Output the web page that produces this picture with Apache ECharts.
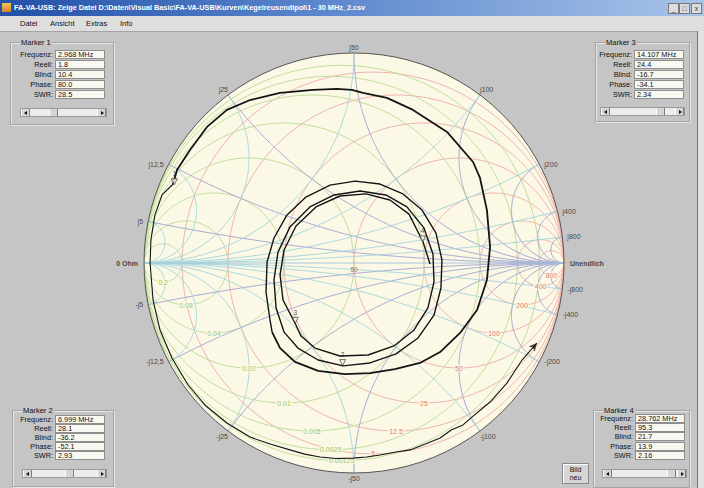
<!DOCTYPE html>
<html><head><meta charset="utf-8">
<script src="https://cdn.jsdelivr.net/npm/echarts@6.0.0/dist/echarts.min.js"></script>
<style>
html,body{margin:0;padding:0}
body{width:704px;height:488px;overflow:hidden;background:#c5c5c5;position:relative;font-family:"Liberation Sans",Arial,sans-serif;color:#111}
#chart{position:absolute;left:0;top:0;width:704px;height:488px;z-index:1}
.ui{position:absolute;z-index:2}
#title{left:0;top:0;width:704px;height:16px;background:linear-gradient(90deg,#2350a8 0%,#5a86cc 45%,#a9c4ea 100%)}
#title .t{position:absolute;left:14px;top:3px;font-size:7.3px;font-weight:bold;color:#fff;white-space:nowrap;line-height:10px}
#title .ic{position:absolute;left:2px;top:3px;width:9px;height:9px;background:linear-gradient(#f6c552,#d9822b)}
.wb{position:absolute;top:3px;width:9px;height:9px;background:#dcdcdc;border:1px solid #7a7a7a;font-size:7px;line-height:9px;text-align:center;color:#333}
#menu{left:0;top:16px;width:704px;height:15px;background:#dedede;border-bottom:1px solid #a4a4a4}
#menu span{position:absolute;top:3px;font-size:7.5px;line-height:9px}
.gb{position:absolute;border:1px solid #a4a4a4;box-shadow:inset 1px 1px 0 #e6e6e6,1px 1px 0 #e6e6e6;z-index:2}
.lg{position:absolute;left:9px;top:-5px;font-size:7.5px;background:#c5c5c5;padding:0 1px;line-height:9px;white-space:nowrap}
.lb{position:absolute;font-size:7.3px;text-align:right;line-height:9px;z-index:2;white-space:nowrap}
.tb{position:absolute;height:7px;background:#f8f8f0;border:1px solid #8e8e8e;font-size:7.3px;line-height:7px;padding-left:2px;z-index:2;white-space:nowrap;overflow:hidden}
.sb{position:absolute;height:7px;background:#ececec;border:1px solid #9a9a9a;z-index:2}
.sbb{position:absolute;top:0;width:7px;height:7px;background:#d6d6d6;border-left:1px solid #fff;border-right:1px solid #7c7c7c}
.sbb i{position:absolute;top:2px;width:0;height:0;border-top:2px solid transparent;border-bottom:2px solid transparent}
.th{position:absolute;top:0;width:7px;height:7px;background:#d6d6d6;border-left:1px solid #fff;border-right:1px solid #7c7c7c}
#bild{left:562px;top:463px;width:27px;height:21px;background:#d6d6d6;border:1px solid #8a8a8a;box-shadow:inset 1px 1px 0 #fff;font-size:7px;line-height:8px;text-align:center;padding-top:2px;box-sizing:border-box}
#edge{left:697px;top:31px;width:1px;height:457px;background:#7a7a7a}
#edge2{left:698px;top:31px;width:6px;height:457px;background:#e2e2e2}
</style>
</head>
<body>
<div id="chart"></div>
<div class="ui" id="title"><div class="ic"></div><div class="t">FA-VA-USB: Zeige Datei D:\Daten\Visual Basic\FA-VA-USB\Kurven\Kegelreusendipol\1 - 30 MHz_2.csv</div>
<div class="wb" style="left:668px">_</div><div class="wb" style="left:679px">□</div><div class="wb" style="left:691px">x</div></div>
<div class="ui" id="menu"><span style="left:20px">Datei</span><span style="left:50px">Ansicht</span><span style="left:86px">Extras</span><span style="left:120px">Info</span></div>
<div class="ui" id="edge"></div><div class="ui" id="edge2"></div>
<div class="ui" id="bild">Bild<br>neu</div>
<script>
// ---------------- data ----------------
const Z0 = 50;
const reactanceOhm  = [5, 12.5, 25, 50, 100, 200, 400, 800];
const reactanceText = ['j5', 'j12,5', 'j25', 'j50', 'j100', 'j200', 'j400', 'j800'];
const resistanceOhm = [5, 12.5, 25, 50, 100, 200, 400, 800];
const resistanceText = ['5', '12.5', '25', '50', '100', '200', '400', '800'];
const conductanceS = [0.2, 0.08, 0.04, 0.02, 0.01, 0.005, 0.0025, 0.00125];
const conductanceText = ['0.2', '0.08', '0.04', '0.02', '0.01', '0.005', '0.0025', '0.00125'];

const sweepLowRe = [0.871,0.800,0.729,0.648,0.560,0.519,0.463,0.410,0.340,0.267,0.200,0.124,0.060,-0.005,-0.085,-0.162,-0.235,-0.305,-0.400,-0.495,-0.605,-0.710,-0.790,-0.867,-0.924,-0.957,-0.971,-0.967,-0.948,-0.914,-0.862];
const sweepLowIm = [-0.381,-0.462,-0.571,-0.662,-0.735,-0.771,-0.795,-0.833,-0.862,-0.890,-0.900,-0.914,-0.924,-0.929,-0.931,-0.924,-0.910,-0.890,-0.862,-0.829,-0.762,-0.676,-0.581,-0.452,-0.319,-0.176,0.000,0.110,0.229,0.324,0.375];
const bigLoopRe = [-0.843,-0.781,-0.700,-0.605,-0.495,-0.352,-0.195,-0.081,-0.010,0.043,0.157,0.281,0.443,0.567,0.600,0.633,0.648,0.633,0.586,0.505,0.410,0.314,0.195,0.076,-0.043,-0.171,-0.281,-0.352,-0.390];
const bigLoopIm = [0.443,0.538,0.648,0.729,0.776,0.810,0.824,0.829,0.824,0.810,0.786,0.729,0.624,0.481,0.405,0.252,0.076,-0.081,-0.224,-0.333,-0.424,-0.476,-0.505,-0.524,-0.529,-0.514,-0.471,-0.405,-0.329];
const innerRe = [-0.400,-0.419,-0.414,-0.381,-0.319,-0.229,-0.114,0.005,0.124,0.233,0.324,0.390,0.419,0.414,0.381,0.305,0.200,0.076,-0.052,-0.171,-0.267,-0.333,
  -0.371,-0.381,-0.362,-0.305,-0.210,-0.095,0.029,0.152,0.252,0.333,0.376,0.381,0.352,0.286,0.190,0.067,-0.067,-0.186,-0.252,-0.281,
  -0.338,-0.352,-0.333,-0.276,-0.181,-0.067,0.057,0.171,0.262,0.329,0.362];
const innerIm = [-0.271,-0.138,0.005,0.119,0.229,0.314,0.371,0.390,0.376,0.329,0.252,0.143,0.014,-0.119,-0.248,-0.357,-0.433,-0.476,-0.490,-0.462,-0.405,-0.329,
  -0.214,-0.081,0.052,0.171,0.267,0.324,0.343,0.324,0.267,0.167,0.043,-0.090,-0.214,-0.319,-0.395,-0.438,-0.443,-0.405,-0.348,-0.286,
  -0.176,-0.057,0.062,0.176,0.267,0.319,0.329,0.300,0.233,0.100,-0.005];

// markers
const markerFreq  = [2.968, 6.999, 14.107, 28.762];
const markerReal  = [1.8, 28.1, 24.4, 95.3];
const markerBlind = [10.4, -36.2, -16.7, 21.7];
const markerPhase = [80.0, -52.1, -34.1, 13.9];
const markerSWR   = [28.5, 2.93, 2.34, 2.16];
const rowNames = ['Frequenz:', 'Reell:', 'Blind:', 'Phase:', 'SWR:'];

// ---------------- UI panels ----------------
const panelLayout = [
  {m:0, box:[10,42,102,81], lblR:53, tbL:55, rows:[50,60,70,80,90], sb:[20,108,85], thumb:48},
  {m:1, box:[12,410,100,75], lblR:53, tbL:55, rows:[415,424,433,442,451], sb:[22,469,83], thumb:64},
  {m:2, box:[595,42,93,78], lblR:632, tbL:634, rows:[50,60,70,80,90], sb:[600,107,83], thumb:655},
  {m:3, box:[593,410,95,76], lblR:633, tbL:635, rows:[414,423,432,442,451], sb:[602,469,83], thumb:666}
];
function el(cls, css, html){const d=document.createElement('div');d.className=cls;d.style.cssText=css;if(html!==undefined)d.innerHTML=html;document.body.appendChild(d);return d;}
panelLayout.forEach(p=>{
  const i=p.m;
  const gb=el('gb',`left:${p.box[0]}px;top:${p.box[1]}px;width:${p.box[2]}px;height:${p.box[3]}px`);
  const lg=document.createElement('div');lg.className='lg';lg.textContent='Marker '+(i+1);gb.appendChild(lg);
  const vals=[markerFreq[i].toFixed(3)+' MHz', markerReal[i].toFixed(1), markerBlind[i].toFixed(1), markerPhase[i].toFixed(1), markerSWR[i].toPrecision(3)];
  p.rows.forEach((y,k)=>{
    el('lb',`left:${p.lblR-50}px;width:50px;top:${y}px`, rowNames[k]);
    el('tb',`left:${p.tbL}px;top:${y}px;width:46px`, vals[k]);
  });
  const sb=el('sb',`left:${p.sb[0]}px;top:${p.sb[1]}px;width:${p.sb[2]}px`);
  const b1=document.createElement('div');b1.className='sbb';b1.style.left='0px';b1.innerHTML='<i style="left:2px;border-right:3px solid #111"></i>';sb.appendChild(b1);
  const b2=document.createElement('div');b2.className='sbb';b2.style.right='0px';b2.innerHTML='<i style="left:3px;border-left:3px solid #111"></i>';sb.appendChild(b2);
  const th=document.createElement('div');th.className='th';th.style.left=(p.thumb-p.sb[0])+'px';sb.appendChild(th);
});

// ---------------- chart ----------------
function zToGamma(r, x){const d=(r+1)*(r+1)+x*x;return [(r*r+x*x-1)/d, 2*x/d];}
function yToGamma(g, b){const p=zToGamma(g,b);return [-p[0], -p[1]];}
const COL={r:'#eeb3ad', g:'#c0dd9c', x:'#a5a7d4', b:'#a6d6dd'};
const series=[];
function gridLine(pts,color){series.push({type:'line',data:pts,symbol:'none',silent:true,animation:false,lineStyle:{color:color,width:1},z:2});}

series.push({type:'custom',coordinateSystem:'cartesian2d',data:[[0,0]],silent:true,z:0,
  renderItem:(params,api)=>{const c=api.coord([0,0]);const e=api.coord([1,0]);
    return {type:'circle',shape:{cx:c[0],cy:c[1],r:e[0]-c[0]},style:{fill:'#fbf9e6',stroke:null}};}});

const rValues=resistanceOhm.map(v=>v/Z0);
const gValues=conductanceS.map(v=>v*Z0);
const xValues=reactanceOhm.map(v=>v/Z0);
const bValues=reactanceOhm.map(v=>Z0/v);
const N=240;
rValues.forEach(r=>{const c=r/(1+r),R=1/(1+r),pts=[];for(let i=0;i<=N;i++){const a=2*Math.PI*i/N;pts.push([c+R*Math.cos(a),R*Math.sin(a)]);}gridLine(pts,COL.r);});
gValues.forEach(g=>{const c=-g/(1+g),R=1/(1+g),pts=[];for(let i=0;i<=N;i++){const a=2*Math.PI*i/N;pts.push([c+R*Math.cos(a),R*Math.sin(a)]);}gridLine(pts,COL.g);});
function arc(fn,v){const pts=[];for(let i=0;i<=N;i++){const t=(Math.PI/2)*i/N;const r=i===N?1e9:Math.tan(t);pts.push(fn(r,v));}return pts;}
xValues.forEach(x=>{gridLine(arc(zToGamma,x),COL.x);gridLine(arc(zToGamma,-x),COL.x);});
bValues.forEach(b=>{gridLine(arc(yToGamma,b),COL.b);gridLine(arc(yToGamma,-b),COL.b);});
gridLine([[-1,0],[1,0]],'#a8c6dc');

series.push({type:'custom',coordinateSystem:'cartesian2d',data:[[0,0]],silent:true,z:4,
  renderItem:(params,api)=>{const c=api.coord([0,0]);const e=api.coord([1,0]);
    return {type:'circle',shape:{cx:c[0],cy:c[1],r:e[0]-c[0]},style:{fill:null,stroke:'#555',lineWidth:1}};}});

const edgeItems=[];
function edgeLabel(p,text){
  const c=p[0],s=p[1];let label={formatter:text};
  if(s>0.7){label.position='top';label.distance=2;label.align=c>0.3?'left':(c<-0.3?'right':'center');}
  else if(s<-0.7){label.position='bottom';label.distance=2;label.align=c>0.3?'left':(c<-0.3?'right':'center');}
  else {label.position=c<0?'left':'right';label.distance=5;}
  edgeItems.push({value:p,label:label});
}
xValues.forEach((x,i)=>{edgeLabel(zToGamma(0,x),reactanceText[i]);edgeLabel(zToGamma(0,-x),'-'+reactanceText[i]);});
series.push({type:'scatter',data:edgeItems,symbolSize:0,silent:true,z:5,
  label:{show:true,fontSize:7,color:'#222',fontFamily:'Liberation Sans'}});
series.push({type:'scatter',data:[{value:[-1,0],label:{position:'left',formatter:'0 Ohm'}},{value:[1,0],label:{position:'right',formatter:'Unendlich'}}],
  symbolSize:0,silent:true,z:5,label:{show:true,fontSize:7,fontWeight:'bold',color:'#222',distance:6,fontFamily:'Liberation Sans'}});
series.push({type:'scatter',silent:true,z:5,symbolSize:0,
  data:rValues.map((r,i)=>({value:[r/(1+r),-1/(1+r)],label:{formatter:resistanceText[i]}})),
  label:{show:true,position:'inside',fontSize:7,color:'#e0574f',backgroundColor:'#fbf9e6',padding:[0,1],fontFamily:'Liberation Sans'}});
series.push({type:'scatter',silent:true,z:5,symbolSize:0,
  data:gValues.map((g,i)=>({value:[-g/(1+g),-1/(1+g)],label:{formatter:conductanceText[i]}})),
  label:{show:true,position:'inside',fontSize:7,color:'#86b84a',backgroundColor:'#fbf9e6',padding:[0,1],fontFamily:'Liberation Sans'}});
series.push({type:'scatter',silent:true,z:5,symbolSize:0,data:[{value:[0,0]}],
  label:{show:true,position:'bottom',distance:3,formatter:'50',fontSize:6.5,color:'#555'}});

// trace, in three connected pieces
const segs=[[sweepLowRe,sweepLowIm,1.1],[bigLoopRe,bigLoopIm,1.8],[innerRe,innerIm,1.4]];
let prev=null; const trace=[];
segs.forEach(([a,b,w])=>{const pts=prev?[prev]:[];a.forEach((v,i)=>{pts.push([v,b[i]]);trace.push([v,b[i]]);});prev=pts[pts.length-1];
  series.push({type:'line',data:pts,symbol:'none',silent:true,z:6,lineStyle:{color:'#141414',width:w}});});
const d0=[trace[0][0]-trace[1][0],trace[0][1]-trace[1][1]];
series.push({type:'scatter',data:[trace[0]],symbol:'arrow',symbolSize:[6,8],symbolRotate:Math.atan2(d0[1],d0[0])*180/Math.PI-90,
  itemStyle:{color:'#141414'},z:7,silent:true});
series.push({type:'scatter',silent:true,z:8,symbol:'triangle',symbolRotate:180,symbolSize:[6,6],symbolOffset:[0,-3],
  data:markerReal.map((r,i)=>({value:zToGamma(r/Z0,markerBlind[i]/Z0),label:{formatter:String(i+1)}})),
  itemStyle:{color:'#fbf9e6',borderColor:'#222',borderWidth:0.8},
  label:{show:true,position:'top',distance:1,fontSize:6.5,color:'#222'}});

const chart=echarts.init(document.getElementById('chart'),null,{renderer:'svg'});
chart.setOption({animation:false,
  grid:{left:144,top:53,width:420,height:420},
  xAxis:{type:'value',min:-1,max:1,show:false},
  yAxis:{type:'value',min:-1,max:1,show:false},
  series:series});
</script>
</body></html>
